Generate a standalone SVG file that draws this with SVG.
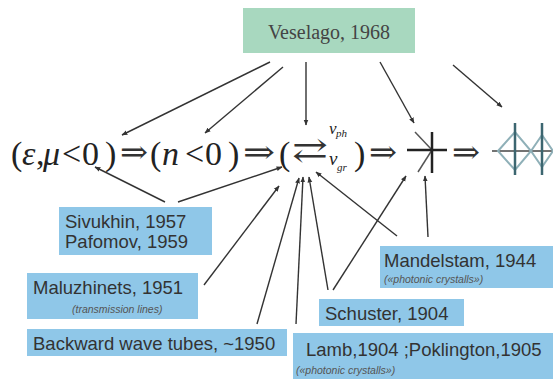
<svg xmlns="http://www.w3.org/2000/svg" width="553" height="379" viewBox="0 0 553 379">
<defs>
<marker id="ah" viewBox="0 0 10 10" refX="9" refY="5" markerWidth="6" markerHeight="6" markerUnits="userSpaceOnUse" orient="auto">
<path d="M0,1 L10,5 L0,9 z" fill="#333"/>
</marker>
<style>
.ln{stroke:#333;stroke-width:1.4;fill:none;marker-end:url(#ah)}
.bx{fill:#8fc7e8}
.lbl{font-family:"Liberation Sans",Arial,sans-serif;font-size:18.5px;fill:#333}
.sm{font-family:"Liberation Sans",Arial,sans-serif;font-size:10.5px;font-style:italic;fill:#555}
.f{font-family:"Liberation Serif","Times New Roman",serif;font-size:34px;fill:#222}
.it{font-style:italic}
.ar{font-family:"DejaVu Serif",serif;font-size:32px;fill:#333}
</style>
</defs>
<rect width="553" height="379" fill="#fff"/>

<g id="veselago">
<rect x="243" y="8" width="172" height="45" fill="#a8d8bf"/>
<text x="329" y="39" text-anchor="middle" font-family="Liberation Serif,serif" font-size="20" fill="#444">Veselago, 1968</text>
</g>

<g id="formula">
<text class="f" y="165"><tspan x="11">(</tspan><tspan x="22" class="it">ε</tspan><tspan x="36">,</tspan><tspan x="43" class="it">μ</tspan><tspan x="62">&lt;</tspan><tspan x="82">0</tspan><tspan x="105">)</tspan></text>
<text class="ar" x="120" y="163" textLength="28" lengthAdjust="spacingAndGlyphs">⇒</text>
<text class="f" y="165"><tspan x="150">(</tspan><tspan x="162" class="it">n</tspan><tspan x="185">&lt;</tspan><tspan x="205">0</tspan><tspan x="228">)</tspan></text>
<text class="ar" x="243" y="163" textLength="32" lengthAdjust="spacingAndGlyphs">⇒</text>
<text class="f" y="165"><tspan x="279">(</tspan><tspan x="354">)</tspan></text>
<text class="ar" x="292" y="161" textLength="36" lengthAdjust="spacingAndGlyphs">⇄</text>
<text font-family="Liberation Serif,serif" font-style="italic" fill="#222"><tspan x="329" y="134" font-size="17">v</tspan><tspan x="336" y="137" font-size="11">ph</tspan><tspan x="329" y="165" font-size="19">v</tspan><tspan x="337" y="171" font-size="11">gr</tspan></text>
<text class="ar" x="369" y="163" textLength="28" lengthAdjust="spacingAndGlyphs">⇒</text>
<text class="ar" x="452" y="163" textLength="28" lengthAdjust="spacingAndGlyphs">⇒</text>
</g>

<g id="lens">
<line x1="415" y1="132" x2="432" y2="150" stroke="#555" stroke-width="1.5"/>
<line x1="432" y1="150" x2="418" y2="172" stroke="#555" stroke-width="1.5"/>
<line x1="407" y1="150" x2="447" y2="150" stroke="#222" stroke-width="2.5"/>
<line x1="432" y1="132" x2="432" y2="173" stroke="#222" stroke-width="2.5"/>
</g>

<g id="crystal">
<line x1="492" y1="151" x2="553" y2="151" stroke="#444" stroke-width="1.6"/>
<path d="M498,151 L515,132 L531,151 L515,170 Z M531,151 L542,135 L553,151 L542,167 Z" fill="none" stroke="#8fb0b8" stroke-width="2"/>
<line x1="515" y1="123" x2="515" y2="175" stroke="#3c6670" stroke-width="2.5"/>
<line x1="542" y1="123" x2="542" y2="175" stroke="#3c6670" stroke-width="2.5"/>
</g>

<g id="sivukhin">
<rect class="bx" x="59" y="207" width="153" height="48"/>
<text class="lbl" x="65" y="228">Sivukhin, 1957</text>
<text class="lbl" x="65" y="248">Pafomov, 1959</text>
</g>
<g id="maluzhinets">
<rect class="bx" x="27" y="273" width="171" height="46"/>
<text class="lbl" x="33" y="294">Maluzhinets, 1951</text>
<text class="sm" x="72" y="313">(transmission lines)</text>
</g>
<g id="backward">
<rect class="bx" x="27" y="329" width="260" height="27"/>
<text class="lbl" x="33" y="350">Backward wave tubes, ~1950</text>
</g>
<g id="mandelstam">
<rect class="bx" x="380" y="246" width="173" height="42"/>
<text class="lbl" x="384" y="267">Mandelstam, 1944</text>
<text class="sm" x="384" y="283">(«photonic crystalls»)</text>
</g>
<g id="schuster">
<rect class="bx" x="319" y="299" width="145" height="27"/>
<text class="lbl" x="325" y="320">Schuster, 1904</text>
</g>
<g id="lamb">
<rect class="bx" x="293" y="333" width="260" height="46"/>
<text class="lbl" x="306" y="356">Lamb,1904 ;Poklington,1905</text>
<text class="sm" x="296" y="374">(«photonic crystalls»)</text>
</g>

<g id="connectors">
<line class="ln" x1="270" y1="62" x2="122" y2="135"/>
<line class="ln" x1="283" y1="67" x2="205" y2="133"/>
<line class="ln" x1="306" y1="62" x2="306" y2="125"/>
<line class="ln" x1="380" y1="62" x2="414" y2="123"/>
<line class="ln" x1="453" y1="65" x2="502" y2="107"/>
<line class="ln" x1="165" y1="202" x2="95" y2="167"/>
<line class="ln" x1="178" y1="202" x2="282" y2="167"/>
<line class="ln" x1="204" y1="285" x2="279" y2="186"/>
<line class="ln" x1="257" y1="324" x2="299" y2="178"/>
<line class="ln" x1="296" y1="324" x2="303" y2="177"/>
<line class="ln" x1="328" y1="290" x2="309" y2="177"/>
<line class="ln" x1="333" y1="290" x2="406" y2="176"/>
<line class="ln" x1="397" y1="236" x2="316" y2="172"/>
<line class="ln" x1="428" y1="237" x2="425" y2="176"/>
</g>
</svg>
